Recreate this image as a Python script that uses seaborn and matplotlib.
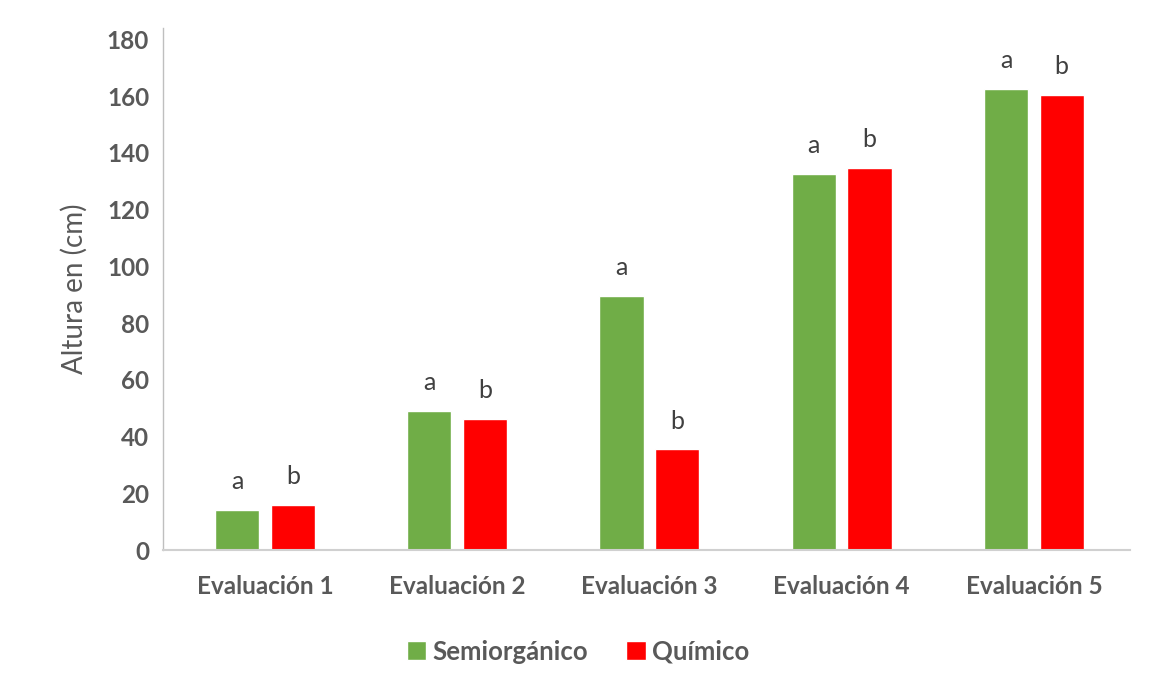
import matplotlib
matplotlib.use("Agg")
import matplotlib.pyplot as plt
import seaborn as sns
import pandas as pd

categories = ["Evaluación 1", "Evaluación 2", "Evaluación 3", "Evaluación 4", "Evaluación 5"]
series_names = ["Semiorgánico", "Químico"]
semiorganico = [14.1, 49.0, 89.7, 132.6, 162.4]
quimico = [15.9, 46.3, 35.5, 134.8, 160.4]
letters_semi = ["a", "a", "a", "a", "a"]
letters_quim = ["b", "b", "b", "b", "b"]
y_ticks = [0, 20, 40, 60, 80, 100, 120, 140, 160, 180]

colors = {"Semiorgánico": "#70ad47", "Químico": "#ff0000"}
text_gray = "#595959"

df = pd.DataFrame({
    "Evaluación": categories * 2,
    "Serie": [series_names[0]] * len(categories) + [series_names[1]] * len(categories),
    "Altura": semiorganico + quimico,
    "Letra": letters_semi + letters_quim,
})

sns.set_theme(style="white")
plt.rcParams["font.family"] = ["Lato", "DejaVu Sans"]

fig = plt.figure(figsize=(11.56, 6.92), dpi=100)
ax = fig.add_axes([0.141, 0.205, 0.8365, 0.7545])

sns.barplot(data=df, x="Evaluación", y="Altura", hue="Serie",
            hue_order=series_names, order=categories, palette=colors,
            width=0.58, gap=0.21, saturation=1, ax=ax, errorbar=None)

# significance letters above each bar
for container, serie in zip(ax.containers, series_names):
    sub = df[df["Serie"] == serie].set_index("Evaluación").loc[categories]
    for bar, letter in zip(container, sub["Letra"]):
        ax.annotate(letter, (bar.get_x() + bar.get_width() / 2, bar.get_height()),
                    xytext=(0, 15), textcoords="offset points",
                    ha="center", va="baseline", fontsize=18, color="#404040")

ax.set_ylim(0, 184)
ax.set_yticks(y_ticks)
ax.set_xlim(-0.53, len(categories) - 0.5)
ax.tick_params(axis="y", length=0, pad=10)
ax.tick_params(axis="x", length=0, pad=18)
for lbl in ax.get_yticklabels() + ax.get_xticklabels():
    lbl.set_fontweight("bold")
    lbl.set_color(text_gray)
    lbl.set_fontsize(17.5)

ax.set_xlabel("")
ax.set_ylabel("Altura en (cm)", fontsize=20, color=text_gray, labelpad=14)

for side in ("top", "right"):
    ax.spines[side].set_visible(False)
ax.spines["left"].set_color("#bfbfbf")
ax.spines["left"].set_linewidth(1.0)
ax.spines["bottom"].set_color("#d0d0d0")
ax.spines["bottom"].set_linewidth(1.5)

sns.move_legend(ax, "center", bbox_to_anchor=(0.5, 0.058), bbox_transform=fig.transFigure,
                ncol=2, frameon=False, title=None, handlelength=0.75, handleheight=0.75,
                handletextpad=0.25, columnspacing=1.5,
                prop={"weight": "bold", "size": 18.5})
for t in ax.get_legend().get_texts():
    t.set_color(text_gray)

fig.savefig("out.png", dpi=100, facecolor="white")
